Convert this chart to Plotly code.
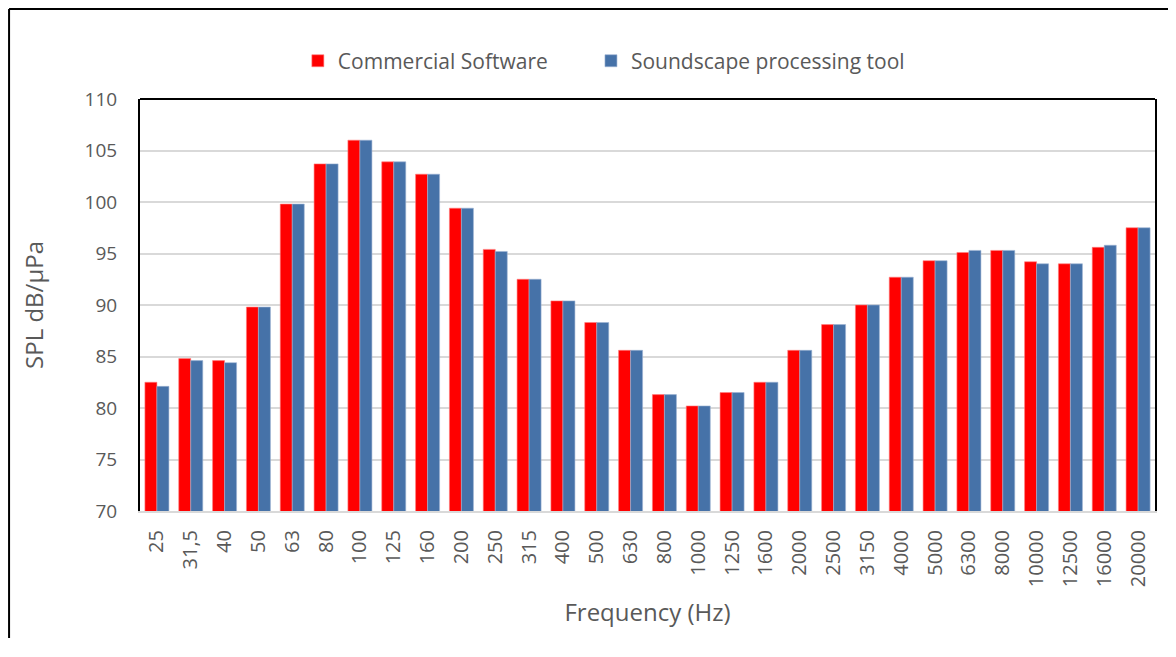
import plotly.graph_objects as go

# Third-octave band centre frequencies (Hz)
frequencies = ["25", "31,5", "40", "50", "63", "80", "100", "125", "160", "200",
               "250", "315", "400", "500", "630", "800", "1000", "1250", "1600", "2000",
               "2500", "3150", "4000", "5000", "6300", "8000", "10000", "12500", "16000", "20000"]

# SPL values (dB)
commercial_software = [82.5, 84.8, 84.6, 89.8, 99.8, 103.7, 106.0, 103.9, 102.7, 99.4,
                       95.4, 92.5, 90.4, 88.3, 85.6, 81.3, 80.2, 81.5, 82.5, 85.6,
                       88.1, 90.0, 92.7, 94.3, 95.1, 95.3, 94.2, 94.0, 95.6, 97.5]
soundscape_tool = [82.1, 84.6, 84.4, 89.8, 99.8, 103.7, 106.0, 103.9, 102.7, 99.4,
                   95.2, 92.5, 90.4, 88.3, 85.6, 81.3, 80.2, 81.5, 82.5, 85.6,
                   88.1, 90.0, 92.7, 94.3, 95.3, 95.3, 94.0, 94.0, 95.8, 97.5]

font_family = "Open Sans, Liberation Sans, sans-serif"
text_color = "#595959"

fig = go.Figure()

fig.add_trace(
    go.Bar(
        x=frequencies,
        y=commercial_software,
        base=0,
        # trailing no-break spaces widen the gap between legend entries
        name="Commercial Software" + "\u00a0" * 7,
        marker=dict(color="#FF0000", line=dict(color="#FF8080", width=0.6)),
    )
)

fig.add_trace(
    go.Bar(
        x=frequencies,
        y=soundscape_tool,
        base=0,
        name="Soundscape processing tool",
        marker=dict(color="#4672A8", line=dict(color="#9DB4D3", width=0.6)),
    )
)

# Outer chart border: only the top and left edges show in the reference
fig.add_shape(
    type="line", xref="paper", yref="paper",
    x0=-0.129, x1=1.3, y0=1.2185, y1=1.2185,
    line=dict(color="black", width=2), layer="below",
)
fig.add_shape(
    type="line", xref="paper", yref="paper",
    x0=-0.129, x1=-0.129, y0=-0.5, y1=1.2185,
    line=dict(color="black", width=2), layer="below",
)
# Top edge of the plot area
fig.add_shape(
    type="line", xref="paper", yref="paper",
    x0=0, x1=1, y0=1, y1=1,
    line=dict(color="black", width=2),
)

# The page body adds an 8px offset; the figure's right edge falls past the window
fig.update_layout(
    width=1176,
    height=630,
    margin=dict(l=132, r=29, t=91, b=127),
    plot_bgcolor="white",
    paper_bgcolor="white",
    barmode="group",
    bargap=0.29,
    bargroupgap=0,
    font=dict(family=font_family, color=text_color, size=19),
    showlegend=True,
    legend=dict(
        orientation="h",
        x=0.457, xanchor="center",
        y=1.092, yanchor="middle",
        font=dict(size=21, color=text_color),
        itemwidth=30,
        traceorder="normal",
    ),
    xaxis=dict(
        type="category",
        tickangle=-90,
        showline=True,
        linecolor="#D9D9D9",
        linewidth=2,
        ticks="",
        ticklabelstandoff=9,
        tickfont=dict(size=20, color=text_color),
        title=dict(text="Frequency (Hz)", font=dict(size=24, color=text_color), standoff=18),
    ),
    yaxis=dict(
        range=[70, 110],
        dtick=5,
        showgrid=True,
        gridcolor="#D9D9D9",
        gridwidth=1.5,
        showline=True,
        linecolor="black",
        linewidth=2,
        mirror=True,
        ticks="",
        ticklabelstandoff=17,
        tickfont=dict(size=19, color=text_color),
        zeroline=False,
        title=dict(text="SPL dB/µPa", font=dict(size=24, color=text_color), standoff=34),
    ),
)

fig.write_html("out.html")
